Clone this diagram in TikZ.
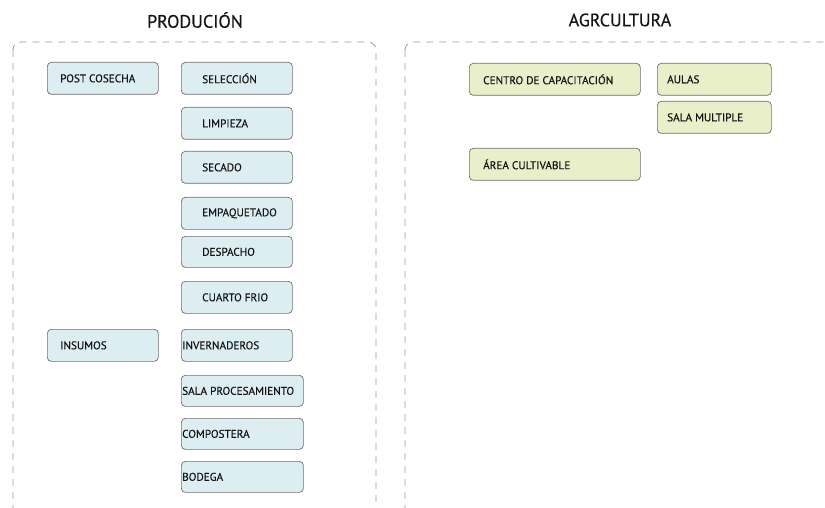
\documentclass[tikz,border=0pt]{standalone}
\usepackage{fontspec}
\setmainfont{PT Sans}
\newfontfamily\labelfont{PT Sans}[FakeBold=0.35]
\definecolor{bluefill}{HTML}{DDEEF3}
\definecolor{greenfill}{HTML}{E9EFC8}
\definecolor{boxline}{HTML}{6E6E6E}
\definecolor{frameline}{HTML}{9C9C9C}
\definecolor{ink}{HTML}{141414}
\begin{document}
\begin{tikzpicture}[x=1pt,y=-1pt,
  frame/.style={draw=frameline, dashed, dash pattern=on 7pt off 6pt, line width=0.8pt, rounded corners=8pt},
  heading/.style={font=\labelfont\fontsize{18}{21}\selectfont, text=ink, inner sep=0pt},
  box/.style={draw=boxline, line width=0.7pt, rounded corners=4pt, anchor=north west, inner sep=0pt, minimum height=32pt},
  bluebox/.style={box, fill=bluefill},
  greenbox/.style={box, fill=greenfill},
  txt/.style={font=\labelfont\fontsize{11.2}{13}\selectfont, text=ink, anchor=west, inner sep=0pt},
]
\useasboundingbox (0,0) rectangle (825,508);
\clip (0,0) rectangle (825,508);

% group frames
\draw[frame] (13,42) rectangle (376,540);
\draw[frame] (405,42) rectangle (860,540);

% headings
\node[heading] (hprod) at (195,20) {PRODUCIÓN};
\node[heading] (hagr) at (620,20) {AGRCULTURA};

% production: left column
\node[bluebox, minimum width=111pt, label={[txt, xshift=13pt]west:POST COSECHA}] (postcosecha) at (47,62) {};
\node[bluebox, minimum width=111pt, label={[txt, xshift=13pt]west:INSUMOS}] (insumos) at (47,329) {};

% production: post-harvest column
\node[bluebox, minimum width=111pt, label={[txt, xshift=21pt]west:SELECCIÓN}] (seleccion) at (181,62) {};
\node[bluebox, minimum width=111pt, label={[txt, xshift=21pt]west:LIMPIEZA}] (limpieza) at (181,107) {};
\node[bluebox, minimum width=111pt, label={[txt, xshift=21pt]west:SECADO}] (secado) at (181,151) {};
\node[bluebox, minimum width=111pt, label={[txt, xshift=21pt]west:EMPAQUETADO}] (empaquetado) at (181,197) {};
\node[bluebox, minimum width=111pt, minimum height=31pt, label={[txt, xshift=21pt]west:DESPACHO}] (despacho) at (181,236) {};
\node[bluebox, minimum width=111pt, label={[txt, xshift=21pt]west:CUARTO FRIO}] (cuartofrio) at (181,281) {};

% production: inputs column
\node[bluebox, minimum width=111pt, label={[txt, xshift=1pt]west:INVERNADEROS}] (invernaderos) at (181,329) {};
\node[bluebox, minimum width=122pt, minimum height=31pt, label={[txt, xshift=1pt]west:SALA PROCESAMIENTO}] (salaproc) at (181,375) {};
\node[bluebox, minimum width=122pt, minimum height=31pt, label={[txt, xshift=1pt]west:COMPOSTERA}] (compostera) at (181,418) {};
\node[bluebox, minimum width=122pt, minimum height=31pt, label={[txt, xshift=1pt]west:BODEGA}] (bodega) at (181,461) {};

% agriculture
\node[greenbox, minimum width=171pt, label={[txt, xshift=14pt]west:CENTRO DE CAPACITACIÓN}] (centro) at (469,63) {};
\node[greenbox, minimum width=114pt, label={[txt, xshift=10pt]west:AULAS}] (aulas) at (657,63) {};
\node[greenbox, minimum width=114pt, label={[txt, xshift=10pt]west:SALA MULTIPLE}] (salamult) at (657,101) {};
\node[greenbox, minimum width=171pt, label={[txt, xshift=14pt]west:ÁREA CULTIVABLE}] (area) at (469,148) {};
\end{tikzpicture}
\end{document}
